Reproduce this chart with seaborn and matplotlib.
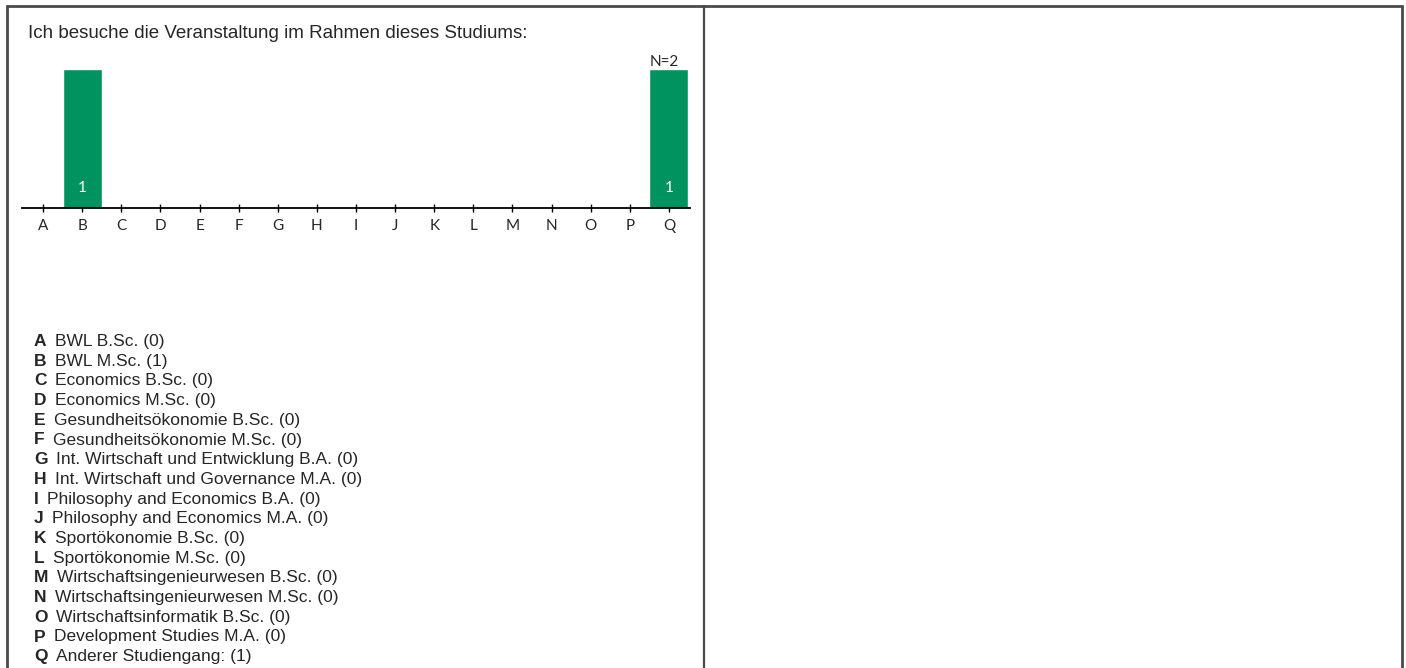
import matplotlib
matplotlib.use("Agg")
import matplotlib.pyplot as plt
from matplotlib.lines import Line2D
import seaborn as sns
import pandas as pd

# data
letters = list("ABCDEFGHIJKLMNOPQ")
counts = [0, 1, 0, 0, 0, 0, 0, 0, 0, 0, 0, 0, 0, 0, 0, 0, 1]
studies = [
    "BWL B.Sc.",
    "BWL M.Sc.",
    "Economics B.Sc.",
    "Economics M.Sc.",
    "Gesundheitsökonomie B.Sc.",
    "Gesundheitsökonomie M.Sc.",
    "Int. Wirtschaft und Entwicklung B.A.",
    "Int. Wirtschaft und Governance M.A.",
    "Philosophy and Economics B.A.",
    "Philosophy and Economics M.A.",
    "Sportökonomie B.Sc.",
    "Sportökonomie M.Sc.",
    "Wirtschaftsingenieurwesen B.Sc.",
    "Wirtschaftsingenieurwesen M.Sc.",
    "Wirtschaftsinformatik B.Sc.",
    "Development Studies M.A.",
    "Anderer Studiengang:",
]
question = "Ich besuche die Veranstaltung im Rahmen dieses Studiums:"

W, H = 1406, 668
GREEN = "#00935F"
FRAME = "#4a4a4a"


def fx(px):
    return px / W


def fy(py):
    return 1 - py / H


sns.set_theme(style="white")
plt.rcParams["font.family"] = ["Liberation Sans", "DejaVu Sans"]

fig = plt.figure(figsize=(W / 100, H / 100), dpi=100)

# frame around the two panels (no bottom edge)
for xs, ys, lw in [
    ([7, 7], [6, H], 2.0),
    ([7, 1402], [6, 6], 2.0),
    ([1402, 1402], [6, H], 2.0),
    ([704, 704], [6, H], 1.6),
]:
    fig.add_artist(Line2D([fx(x) for x in xs], [fy(y) for y in ys],
                          color=FRAME, lw=lw))

fig.text(fx(28), fy(34), question, fontsize=13.5, va="center", ha="left")

df = pd.DataFrame({"letter": letters, "count": counts})
ax = fig.add_axes([fx(22), fy(208), fx(690) - fx(22), fy(69) - fy(208)])
sns.barplot(data=df, x="letter", y="count", color=GREEN, saturation=1,
            width=1.0, ax=ax)
ax.set_xlim(-0.54, 16.54)
ax.set_ylim(0, max(counts))
ax.set_xlabel("")
ax.set_ylabel("")
ax.set_yticks([])
for s in ["left", "right", "top"]:
    ax.spines[s].set_visible(False)
ax.spines["bottom"].set_color("black")
ax.spines["bottom"].set_linewidth(1.3)
ax.tick_params(axis="x", direction="inout", length=6, width=1, color="black",
               pad=5, labelsize=11, bottom=True)
for lab in ax.get_xticklabels():
    lab.set_fontfamily("Lato")
ax.patch.set_alpha(0)

for i, c in enumerate(counts):
    if c > 0:
        ax.text(i, 0.145, str(c), color="white", ha="center", va="center",
                fontsize=11, family="Lato")
ax.annotate(f"N={sum(counts)}", xy=(len(counts) - 1, max(counts)),
            xytext=(-3, 2), textcoords="offset points", ha="center",
            va="baseline", fontsize=11, family="Lato", annotation_clip=False)

# legend list below the chart
for i, (let, name, c) in enumerate(zip(letters, studies, counts)):
    y = 346 + i * 19.7
    t = fig.text(fx(34), fy(y), let, fontsize=12.5, fontweight="bold",
                 va="baseline", ha="left")
    ax.annotate(f"{name} ({c})", xy=(1, 0), xycoords=t, xytext=(6, 0),
                textcoords="offset points", fontsize=12.5, va="bottom",
                ha="left", annotation_clip=False)

fig.savefig("out.png", dpi=100)
